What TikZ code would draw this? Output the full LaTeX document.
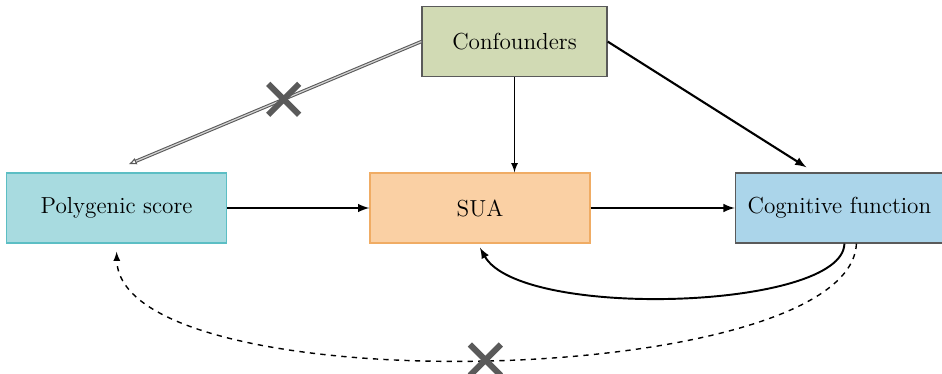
\documentclass[tikz,border=0pt]{standalone}
\usepackage{amsmath}
\usepackage{tikz}
\usetikzlibrary{arrows, arrows.meta, shapes, shapes.misc, positioning}

\definecolor{confFill}{RGB}{209,218,180}
\definecolor{polyFill}{RGB}{168,219,224}
\definecolor{polyLine}{RGB}{92,190,196}
\definecolor{suaFill}{RGB}{250,208,164}
\definecolor{suaLine}{RGB}{240,172,100}
\definecolor{cogFill}{RGB}{171,213,234}
\definecolor{xGray}{RGB}{90,90,90}

\begin{document}
\begin{tikzpicture}[box/.style={rectangle, draw, line width=0.8pt, minimum width=4.4cm, minimum height=1.4cm, inner sep=2pt, font=\fontsize{13.2}{16}\selectfont},
        xmark/.style={cross out, solid, draw=xGray, line width=3.4pt, minimum size=0.5cm, inner sep=0pt},
        dbl/.style={draw=gray!70!black, double=gray!35, double distance=0.7pt, line width=0.6pt}]
        \useasboundingbox (0,0) rectangle (18.84,-7.48);
        % \draw[help lines] (0,0) grid (18.84,-7.48);
        \node[box, fill=suaFill, draw=suaLine] (sua) at (9.6,-4.16) {SUA};
        \node[box, fill=polyFill, draw=polyLine] (poly) [left = 2.84cm of sua] {Polygenic score};
        \node[box, fill=cogFill, draw=xGray, minimum width=4.16cm] (cog) [right = 2.88cm of sua] {Cognitive function};
        \node[box, fill=confFill, draw=xGray, minimum width=3.7cm] (conf) [above = 1.9cm of sua, xshift=0.69cm] {Confounders};

        \path[-{Latex[open, length=1.6mm, width=1.4mm]}]  (conf.west) edge [dbl] node[xmark, pos=0.47] {} ([xshift=0.24cm, yshift=0.16cm]poly.north);
        \path[-latex]  (conf.east) edge [very thick] ([xshift=-0.66cm, yshift=0.1cm]cog.north);
        \path[-latex]  (conf.south) edge [thick] (conf.south |- sua.north);
        \path[-latex]  (poly) edge [very thick] (sua);
        \path[-latex]  (sua) edge [very thick] (cog);

        \draw[-latex, line width=1.1pt] ([xshift=0.1cm]cog.south) .. controls (16.86,-6.2) and (10.4,-6.4) .. ([yshift=-0.08cm]sua.south);
        \draw[-latex, thick, dashed] ([xshift=0.34cm]cog.south) .. controls (17.0,-7.8) and (2.4,-8.1) .. node[xmark, pos=0.5] {} ([yshift=-0.16cm]poly.south);
    \end{tikzpicture}
\end{document}
